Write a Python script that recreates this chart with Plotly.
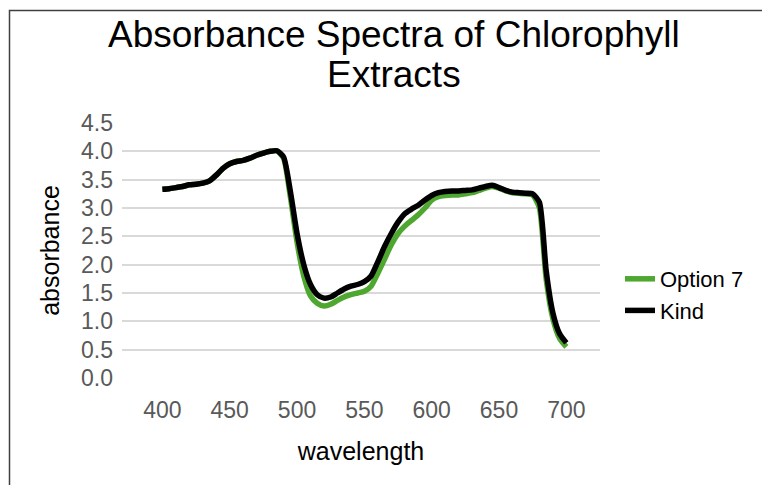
import plotly.graph_objects as go

wavelength = [400, 405, 410, 415, 420, 425, 430, 435, 440, 445, 450, 455, 460, 465, 470,
              475, 480, 485, 490, 495, 500, 505, 510, 515, 520, 525, 530, 535, 540, 545,
              550, 555, 560, 565, 570, 575, 580, 585, 590, 595, 600, 605, 610, 615, 620,
              625, 630, 635, 640, 645, 650, 655, 660, 665, 670, 675, 680, 685, 690, 695, 700]

kind = [3.33, 3.34, 3.36, 3.38, 3.41, 3.42, 3.44, 3.48, 3.58, 3.70, 3.78, 3.82, 3.84, 3.88, 3.93,
        3.97, 4.00, 4.01, 3.90, 3.30, 2.55, 2.00, 1.65, 1.47, 1.41, 1.43, 1.50, 1.57, 1.62, 1.65,
        1.70, 1.80, 2.05, 2.32, 2.55, 2.75, 2.90, 2.98, 3.05, 3.14, 3.22, 3.27, 3.29, 3.30, 3.30,
        3.31, 3.32, 3.35, 3.38, 3.40, 3.36, 3.31, 3.28, 3.27, 3.26, 3.25, 3.10, 1.90, 1.15, 0.78, 0.62]

option7 = [3.33, 3.34, 3.36, 3.38, 3.41, 3.42, 3.44, 3.48, 3.58, 3.70, 3.78, 3.82, 3.84, 3.88, 3.93,
           3.97, 4.00, 4.01, 3.88, 3.20, 2.40, 1.80, 1.45, 1.32, 1.27, 1.30, 1.37, 1.43, 1.47, 1.50,
           1.53, 1.62, 1.85, 2.10, 2.35, 2.55, 2.68, 2.78, 2.88, 3.00, 3.14, 3.20, 3.22, 3.23, 3.23,
           3.25, 3.27, 3.31, 3.35, 3.38, 3.35, 3.30, 3.27, 3.26, 3.25, 3.23, 3.00, 1.75, 1.05, 0.70, 0.55]

x_ticks = [400, 450, 500, 550, 600, 650, 700]
y_ticks = [0.0, 0.5, 1.0, 1.5, 2.0, 2.5, 3.0, 3.5, 4.0, 4.5]
title_lines = ["Absorbance Spectra of Chlorophyll", "Extracts"]

FONT = "Arial, Liberation Sans, sans-serif"

fig = go.Figure()
fig.add_trace(go.Scatter(x=wavelength, y=option7, name="Option 7", mode="lines",
                         line=dict(color="#4ea72e", width=5.5, shape="spline", smoothing=0.6)))
fig.add_trace(go.Scatter(x=wavelength, y=kind, name="Kind", mode="lines",
                         line=dict(color="#000000", width=5.5, shape="spline", smoothing=0.6)))

OFF = 8  # page offset of the figure in the browser
W, H = 770, 485
L, T = 122 - OFF, 123 - OFF
pw, ph = 478, 255
R = W - L - pw
B = H - T - ph

def px(xpage):
    return (xpage - OFF - L) / pw

def py(ypage):
    return (T + ph - (ypage - OFF)) / ph

fig.update_layout(
    width=W, height=H,
    margin=dict(l=L, r=R, t=T, b=B, autoexpand=False),
    paper_bgcolor="white", plot_bgcolor="white",
    font=dict(family=FONT, color="#595959"),
    xaxis=dict(range=[370, 725], tickvals=x_ticks, ticktext=[str(v) for v in x_ticks],
               showgrid=False, zeroline=False, showline=False, ticks="",
               ticklabelstandoff=16,
               tickfont=dict(size=23, color="#595959"),
               title=dict(text="wavelength", font=dict(size=25, color="#000000"), standoff=20)),
    yaxis=dict(range=[0, 4.5], tickvals=y_ticks, ticktext=[f"{v:.1f}" for v in y_ticks],
               showgrid=True, gridcolor="#d9d9d9", gridwidth=1.5, zeroline=False,
               showline=False, ticks="",
               ticklabelstandoff=8,
               tickfont=dict(size=23, color="#595959"),
               title=dict(text="absorbance", font=dict(size=25, color="#000000"), standoff=14)),
    legend=dict(x=px(620), y=py(258), xanchor="left", yanchor="top",
                font=dict(size=22, color="#000000"), bgcolor="rgba(0,0,0,0)",
                tracegroupgap=0, itemwidth=30),
    showlegend=True,
)

fig.add_annotation(text=title_lines[0], xref="paper", yref="paper",
                   x=px(394), y=py(35), xanchor="center", yanchor="middle",
                   showarrow=False, font=dict(family=FONT, size=37, color="#000000"))
fig.add_annotation(text=title_lines[1], xref="paper", yref="paper",
                   x=px(394), y=py(74), xanchor="center", yanchor="middle",
                   showarrow=False, font=dict(family=FONT, size=37, color="#000000"))

# chart-area border (top and left visible in the picture)
fig.add_shape(type="rect", xref="paper", yref="paper",
              x0=px(9.5), x1=px(820), y0=py(520), y1=py(10.5),
              line=dict(color="#404040", width=1.5), fillcolor="rgba(0,0,0,0)", layer="below")

fig.write_html("out.html")
